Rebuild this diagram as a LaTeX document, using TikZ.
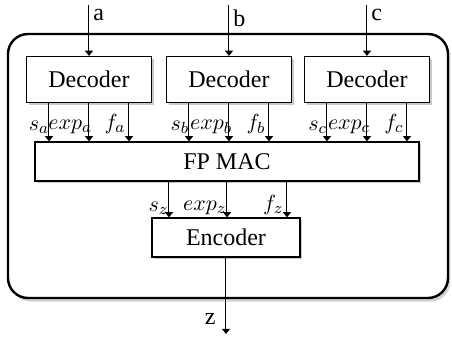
\documentclass[tikz,border=0pt]{standalone}
\usepackage{fontspec}
\setmainfont{Liberation Serif}
\usetikzlibrary{calc, shadows, arrows.meta}

\begin{document}
\begin{tikzpicture}[x=0.5pt, y=-0.5pt,
	font=\fontsize{12}{14}\selectfont,
	block/.style={draw, fill=white, line width=0.6pt, inner sep=0pt,
		drop shadow={shadow xshift=1.2pt, shadow yshift=-1.2pt, fill=black!35, opacity=0.6}},
	sig/.style={line width=0.5pt, -{Triangle[length=2.6pt, width=4pt]}},
	lbl/.style={anchor=south east, inner sep=0pt, yshift=3.5pt, font=\fontsize{11}{13}\selectfont}]
	\useasboundingbox (0,0) rectangle (452,341);

	\def\dx{40};
	\def\wDec{62.5pt};
	\def\hDec{23pt};

	\node[draw, fill=white, line width=1.2pt, rounded corners=10pt,
		minimum width=220pt, minimum height=132pt,
		drop shadow={shadow xshift=1.2pt, shadow yshift=-1.8pt, fill=black!35, opacity=0.5}]
		(chip) at (228,166) {};

	\node[block, minimum width=192pt, minimum height=19.5pt] (mac) at (227,161.5) {FP MAC};
	\node[block, minimum width=74pt, minimum height=19.5pt] (enc) at (226,237.5) {Encoder};

	\newcommand{\drawDecoder}[3]
	{
		\node[block, minimum width=\wDec, minimum height=\hDec] (dec#1) at (#2,79.5) {Decoder};
		\coordinate (in#1) at (#2,5);
		\draw[sig] (in#1) node[anchor=north west, inner sep=2pt] {#3} -- (dec#1.north);
		\coordinate (s#1) at ($(dec#1.south)+(-\dx,0)$);
		\coordinate (e#1) at (dec#1.south);
		\coordinate (f#1) at ($(dec#1.south)+(\dx,0)$);
		\draw[sig] (s#1) -- (s#1 |- mac.north) node[lbl, xshift=0.3pt] {$s_#3$};
		\draw[sig] (e#1) -- (e#1 |- mac.north) node[lbl, xshift=1.8pt] {$exp_#3$};
		\draw[sig] (f#1) -- (f#1 |- mac.north) node[lbl, xshift=-1.5pt] {$f_#3$};
	}

	\drawDecoder{a}{89}{a}
	\drawDecoder{b}{229}{b}
	\drawDecoder{c}{367}{c}

	\begin{scope}[lbl/.append style={yshift=-2.5pt}]
		\coordinate (sz) at ($(enc.north)+(-57,0)$);
		\coordinate (ez) at ($(enc.north)+(1,0)$);
		\coordinate (fz) at ($(enc.north)+(61,0)$);
		\draw[sig] (sz |- mac.south) -- (sz) node[lbl] {$s_z$};
		\draw[sig] (ez |- mac.south) -- (ez) node[lbl] {$exp_z$};
		\draw[sig] (fz |- mac.south) -- (fz) node[lbl, xshift=-1.5pt] {$f_z$};
	\end{scope}

	\coordinate (outz) at (226,334);
	\draw[sig] (enc.south) -- (outz) node[pos=0.8, left, inner sep=5pt] {z};
\end{tikzpicture}
\end{document}
